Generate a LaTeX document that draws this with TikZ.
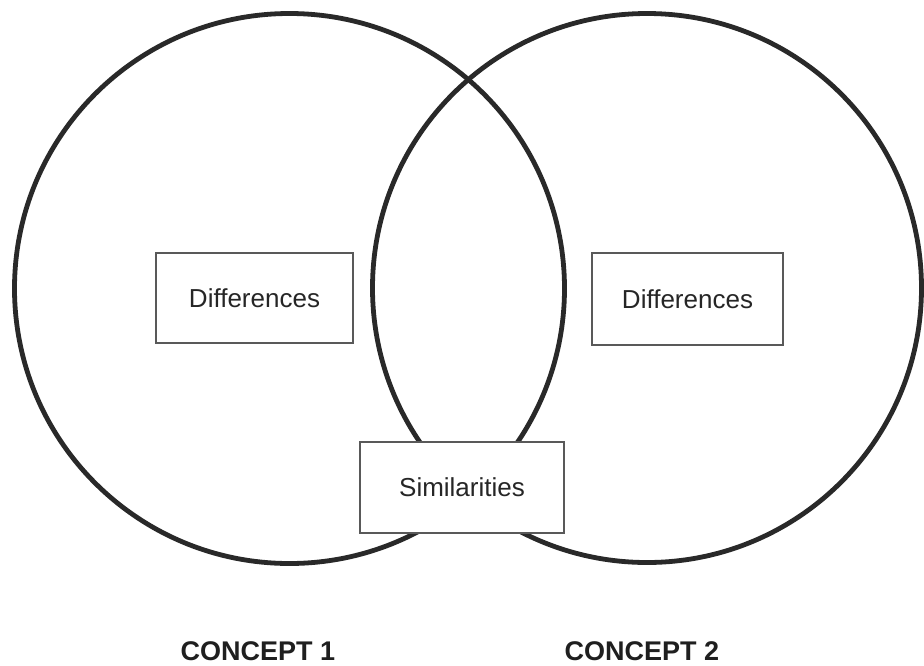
\documentclass[tikz,border=0pt]{standalone}
\usepackage{fontspec}
\setmainfont{Liberation Sans}
\begin{document}
\begin{tikzpicture}[x=1pt,y=-1pt,
  ring/.style={circle,draw=black!84,line width=4.8pt,inner sep=0pt,minimum size=#1},
  label box/.style={draw=black!65,line width=1.3pt,fill=white,inner sep=0pt,
    font=\fontsize{26}{30}\selectfont,text=black!85},
  concept/.style={font=\fontsize{27}{32}\selectfont\bfseries,text=black!88,inner sep=0pt}]
\useasboundingbox[fill=white] (0,0) rectangle (924,665);
% the two overlapping sets
\node[ring=550pt] (left) at (289.5,288.5) {};
\node[ring=549pt] (right) at (647,288) {};
% region labels
\node[label box,minimum width=197pt,minimum height=90pt] (diffL) at (254.5,298) {Differences};
\node[label box,minimum width=191pt,minimum height=92pt] (diffR) at (687.5,299) {Differences};
\node[label box,minimum width=204pt,minimum height=91pt] (sim) at (462,487.5) {Similarities};
% set names
\node[concept] (c1) at (258,651) {CONCEPT 1};
\node[concept] (c2) at (642,651) {CONCEPT 2};
\end{tikzpicture}
\end{document}
